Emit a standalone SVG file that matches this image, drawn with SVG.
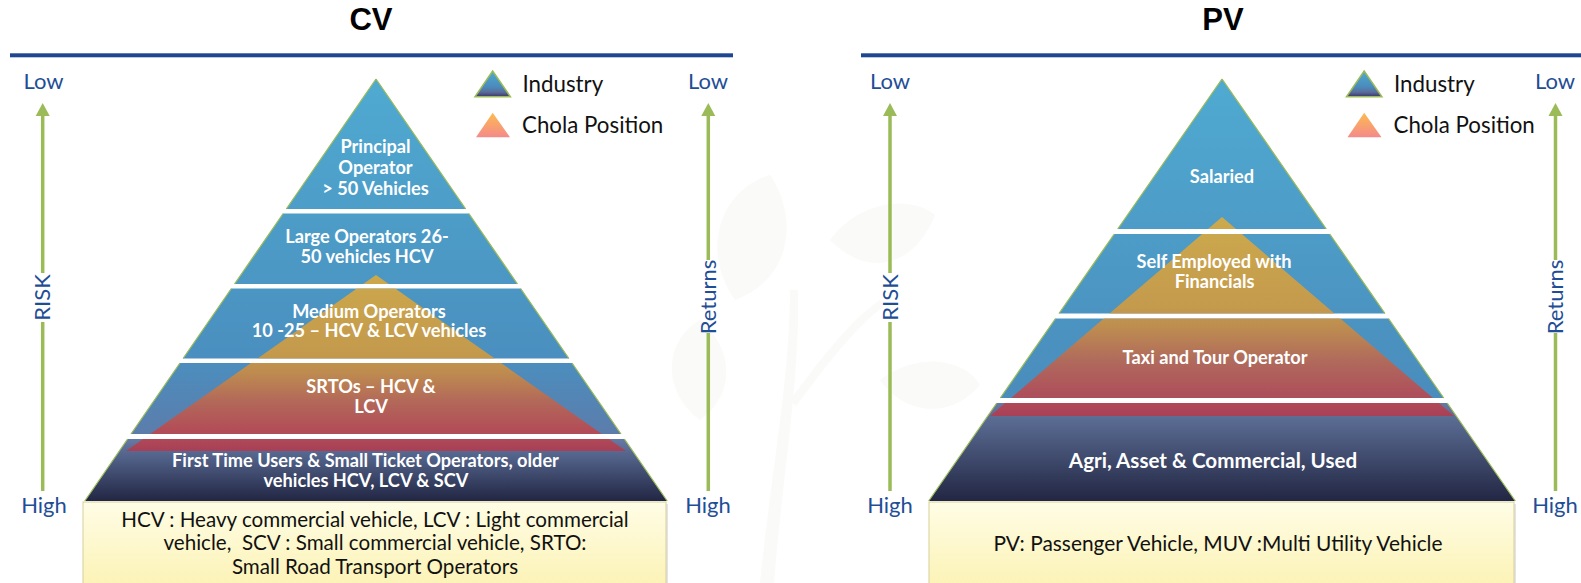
<svg xmlns="http://www.w3.org/2000/svg" width="1581" height="583" viewBox="0 0 1581 583">
<style>
.t{font-family:Lato,"Liberation Sans",sans-serif}
.title{font-family:"Liberation Sans",Arial,sans-serif;font-weight:700;font-size:31px;fill:#000;text-anchor:middle}
.lvl{font-weight:700;font-size:18.2px;fill:#fff;text-anchor:middle}
.lvlb{font-weight:700;font-size:20.6px;fill:#fff;text-anchor:middle}
.ax{font-size:22px;fill:#1f4e96;text-anchor:middle}
.leg{font-size:22.3px;fill:#111}
.note{font-size:20.6px;fill:#111;text-anchor:middle}
.edge{fill:none;stroke:#9bbb59;stroke-width:1.3}
.arr{stroke:#9bbb59;stroke-width:3.5;fill:none}
.head{fill:#9bbb59}
.rule{fill:#1f4690}
.box{stroke:#d8cf9c;stroke-width:1}
</style>
<defs>
<linearGradient id="indCV" gradientUnits="userSpaceOnUse" x1="0" y1="79" x2="0" y2="501">
<stop offset="0" stop-color="#4faad1"/>
<stop offset="0.66" stop-color="#4a8fbf"/>
<stop offset="0.845" stop-color="#5c7cab"/>
<stop offset="0.855" stop-color="#6479a4"/>
<stop offset="1" stop-color="#222643"/>
</linearGradient>
<linearGradient id="indPV" gradientUnits="userSpaceOnUse" x1="0" y1="79" x2="0" y2="501">
<stop offset="0" stop-color="#4faad1"/>
<stop offset="0.758" stop-color="#4a8cbc"/>
<stop offset="0.768" stop-color="#6579a2"/>
<stop offset="1" stop-color="#222643"/>
</linearGradient>
<linearGradient id="chola" x1="0" y1="0" x2="0" y2="1">
<stop offset="0" stop-color="#f0ad2a"/>
<stop offset="0.45" stop-color="#e69c2c"/>
<stop offset="0.55" stop-color="#de8c30"/>
<stop offset="0.72" stop-color="#cd6040"/>
<stop offset="0.88" stop-color="#cb4040"/>
<stop offset="1" stop-color="#bd3445"/>
</linearGradient>
<linearGradient id="legInd" x1="0" y1="0" x2="0" y2="1">
<stop offset="0" stop-color="#4faad1"/>
<stop offset="0.6" stop-color="#4a8cbd"/>
<stop offset="0.82" stop-color="#5a6d9c"/>
<stop offset="1" stop-color="#3b3766"/>
</linearGradient>
<linearGradient id="legCh" x1="0" y1="0" x2="0" y2="1">
<stop offset="0" stop-color="#fdbb50"/>
<stop offset="1" stop-color="#f58a8a"/>
</linearGradient>
<linearGradient id="boxg" x1="0" y1="0" x2="0" y2="1">
<stop offset="0" stop-color="#fffde6"/>
<stop offset="1" stop-color="#fbf2b2"/>
</linearGradient>
<clipPath id="clipCV">
<polygon points="376,79 286.3,209 465.7,209"/>
<polygon points="283.2,213.5 468.8,213.5 517.45,284 234.55,284"/>
<polygon points="231.4,288.5 520.6,288.5 568.9,358.5 183.1,358.5"/>
<polygon points="180,363 572,363 621,434 131,434"/>
<polygon points="127.6,439 624.4,439 667.2,501 84.8,501"/>
</clipPath>
<clipPath id="clipPV">
<polygon points="1222,79 1117.75,229 1326.25,229"/>
<polygon points="1114.3,234 1329.7,234 1385,313.5 1059,313.5"/>
<polygon points="1055.55,318.5 1388.45,318.5 1443.7,398 1000.3,398"/>
<polygon points="996.8,403 1447.2,403 1515.3,501 928.7,501"/>
</clipPath>
</defs>

<rect width="1581" height="583" fill="#fff"/>

<g id="watermark" fill="#fafaf8">
<path d="M735 300 C 700 250 720 190 770 175 C 800 220 790 280 735 300 Z"/>
<path d="M830 240 C 860 200 910 195 935 215 C 915 265 870 280 830 240 Z"/>
<path d="M700 420 C 660 390 665 340 700 320 C 735 350 735 395 700 420 Z"/>
<path d="M880 380 C 920 350 965 360 980 385 C 950 420 905 415 880 380 Z"/>
<path d="M760 583 C 770 480 790 380 790 290 L 798 290 C 800 380 782 480 774 583 Z"/>
<path d="M790 400 C 820 360 850 320 880 300 L 884 306 C 856 326 826 366 796 406 Z"/>
</g>

<g id="cv-title">
<text class="title" x="371" y="29.5">CV</text>
<rect class="rule" x="10" y="53.3" width="723" height="4"/>
</g>
<g id="pv-title">
<text class="title" x="1223" y="29.5">PV</text>
<rect class="rule" x="861" y="53.3" width="720" height="4"/>
</g>

<g id="connectors">
<polygon class="head" points="42.7,103 35.7,116 49.7,116"/>
<line class="arr" x1="42.7" y1="115" x2="42.7" y2="273"/>
<line class="arr" x1="42.7" y1="322" x2="42.7" y2="491"/>
<polygon class="head" points="708.3,103 701.3,116 715.3,116"/>
<line class="arr" x1="708.3" y1="115" x2="708.3" y2="260"/>
<line class="arr" x1="708.3" y1="333" x2="708.3" y2="491"/>
<polygon class="head" points="890,103 883,116 897,116"/>
<line class="arr" x1="890" y1="115" x2="890" y2="273"/>
<line class="arr" x1="890" y1="322" x2="890" y2="491"/>
<polygon class="head" points="1555.5,103 1548.5,116 1562.5,116"/>
<line class="arr" x1="1555.5" y1="115" x2="1555.5" y2="260"/>
<line class="arr" x1="1555.5" y1="333" x2="1555.5" y2="491"/>
</g>

<g id="cv-axis">
<text class="t ax" x="43.6" y="88.5">Low</text>
<text class="t ax" x="44" y="512.5">High</text>
<text class="t ax" transform="translate(42.7,297.5) rotate(-90)" y="7.5">RISK</text>
<text class="t ax" x="708" y="88.5">Low</text>
<text class="t ax" x="708" y="512.5">High</text>
<text class="t ax" transform="translate(708.3,297) rotate(-90)" y="7.5">Returns</text>
</g>
<g id="pv-axis">
<text class="t ax" x="890" y="88.5">Low</text>
<text class="t ax" x="890" y="512.5">High</text>
<text class="t ax" transform="translate(890,297.5) rotate(-90)" y="7.5">RISK</text>
<text class="t ax" x="1555" y="88.5">Low</text>
<text class="t ax" x="1555" y="512.5">High</text>
<text class="t ax" transform="translate(1555.5,297) rotate(-90)" y="7.5">Returns</text>
</g>

<g id="cv-legend">
<polygon points="492.7,71 475,96.7 510.4,96.7" fill="url(#legInd)" stroke="#9bbb59" stroke-width="1.5"/>
<text class="t leg" x="522.5" y="91.7">Industry</text>
<polygon points="492.7,112.7 476,137.3 510,137.3" fill="url(#legCh)"/>
<text class="t leg" x="522" y="133.3">Chola Position</text>
</g>
<g id="pv-legend">
<polygon points="1364.2,71 1346.5,96.7 1381.9,96.7" fill="url(#legInd)" stroke="#9bbb59" stroke-width="1.5"/>
<text class="t leg" x="1394" y="91.7">Industry</text>
<polygon points="1364.2,112.7 1347.5,137.3 1381.5,137.3" fill="url(#legCh)"/>
<text class="t leg" x="1393.5" y="133.3">Chola Position</text>
</g>

<g id="cv-pyramid">
<g id="cv-layer-1"><polygon points="376,79 286.3,209 465.7,209" fill="url(#indCV)"/></g>
<g id="cv-layer-2"><polygon points="283.2,213.5 468.8,213.5 517.45,284 234.55,284" fill="url(#indCV)"/></g>
<g id="cv-layer-3"><polygon points="231.4,288.5 520.6,288.5 568.9,358.5 183.1,358.5" fill="url(#indCV)"/></g>
<g id="cv-layer-4"><polygon points="180,363 572,363 621,434 131,434" fill="url(#indCV)"/></g>
<g id="cv-layer-5"><polygon points="127.6,439 624.4,439 667.2,501 84.8,501" fill="url(#indCV)"/></g>
<g id="cv-chola"><polygon points="376,275 126,451 626,451" fill="url(#chola)" fill-opacity="0.78" clip-path="url(#clipCV)"/></g>
<path class="edge" d="M376,79 L286.3,209 M283.2,213.5 L234.55,284 M231.4,288.5 L183.1,358.5 M180,363 L131,434 M127.6,439 L84.8,501 M376,79 L465.7,209 M468.8,213.5 L517.45,284 M520.6,288.5 L568.9,358.5 M572,363 L621,434 M624.4,439 L667.2,501"/>
<g id="cv-labels">
<text class="t lvl" x="375.5" y="153">Principal</text>
<text class="t lvl" x="375.5" y="174">Operator</text>
<text class="t lvl" x="375.5" y="195">&gt; 50 Vehicles</text>
<text class="t lvl" x="367" y="242.5">Large Operators 26-</text>
<text class="t lvl" x="367" y="263">50 vehicles HCV</text>
<text class="t lvl" x="369" y="317.5">Medium Operators</text>
<text class="t lvl" x="369" y="337">10 -25 – HCV &amp; LCV vehicles</text>
<text class="t lvl" x="371" y="393">SRTOs – HCV &amp;</text>
<text class="t lvl" x="371" y="413">LCV</text>
<text class="t lvl" x="365.5" y="466.5">First Time Users &amp; Small Ticket Operators, older</text>
<text class="t lvl" x="366" y="486.5">vehicles HCV, LCV &amp; SCV</text>
</g>
</g>

<g id="pv-pyramid">
<g id="pv-layer-1"><polygon points="1222,79 1117.75,229 1326.25,229" fill="url(#indPV)"/></g>
<g id="pv-layer-2"><polygon points="1114.3,234 1329.7,234 1385,313.5 1059,313.5" fill="url(#indPV)"/></g>
<g id="pv-layer-3"><polygon points="1055.55,318.5 1388.45,318.5 1443.7,398 1000.3,398" fill="url(#indPV)"/></g>
<g id="pv-layer-4"><polygon points="996.8,403 1447.2,403 1515.3,501 928.7,501" fill="url(#indPV)"/></g>
<g id="pv-chola"><polygon points="1222,217 990,416 1454,416" fill="url(#chola)" fill-opacity="0.78" clip-path="url(#clipPV)"/></g>
<path class="edge" d="M1222,79 L1117.75,229 M1114.3,234 L1059,313.5 M1055.55,318.5 L1000.3,398 M996.8,403 L928.7,501 M1222,79 L1326.25,229 M1329.7,234 L1385,313.5 M1388.45,318.5 L1443.7,398 M1447.2,403 L1515.3,501"/>
<text class="t lvl" x="1222" y="183">Salaried</text>
<text class="t lvl" x="1214" y="268">Self Employed with</text>
<text class="t lvl" x="1214.6" y="288">Financials</text>
<text class="t lvl" x="1215" y="364">Taxi and Tour Operator</text>
<text class="t lvlb" x="1213" y="468">Agri, Asset &amp; Commercial, Used</text>
</g>

<g id="cv-note">
<rect x="85" y="504" width="583" height="90" fill="#e4e4e4"/>
<rect class="box" x="83" y="502" width="583" height="90" fill="url(#boxg)"/>
<text class="t note" x="375" y="527">HCV : Heavy commercial vehicle, LCV : Light commercial</text>
<text class="t note" x="375" y="550">vehicle,&#160; SCV : Small commercial vehicle, SRTO:</text>
<text class="t note" x="375" y="573.5">Small Road Transport Operators</text>
</g>
<g id="pv-note">
<rect x="931" y="504" width="585" height="90" fill="#e4e4e4"/>
<rect class="box" x="929" y="502" width="585" height="90" fill="url(#boxg)"/>
<text class="t note" x="1218" y="551" style="font-size:20.9px">PV: Passenger Vehicle, MUV :Multi Utility Vehicle</text>
</g>
</svg>
